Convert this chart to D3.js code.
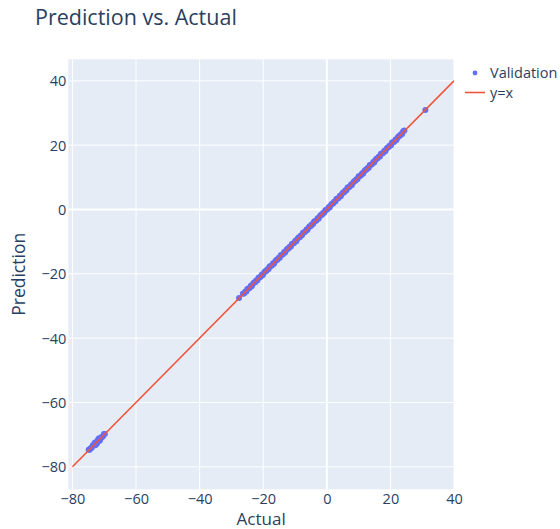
<!DOCTYPE html>
<html>
<head>
<meta charset="utf-8">
<script src="https://cdn.jsdelivr.net/npm/d3@7"></script>
<style>
  html, body { margin: 0; padding: 0; background: #fff; }
  svg text { font-family: "Open Sans", verdana, arial, sans-serif; fill: #2a3f5f; }
</style>
</head>
<body>
<svg id="chart" width="560" height="529"></svg>
<script>
// Validation set as [actual, predicted] pairs
const lowCluster = [
  [-74.9, -74.7], [-74.6, -74.7], [-74.3, -74.2], [-73.9, -74.1], [-73.6, -73.3], [-73.2, -73.2],
  [-72.9, -73.0], [-72.5, -72.3], [-72.2, -72.5], [-71.8, -71.7], [-71.5, -71.3], [-71.1, -71.2],
  [-70.8, -70.7], [-70.4, -70.6], [-70.1, -69.8], [-69.8, -69.8],
  [-73.0, -72.5], [-72.4, -72.9], [-71.9, -71.4], [-71.4, -71.9], [-72.8, -73.3], [-71.6, -71.1]
];
const isolated = [[-27.6, -27.5], [31.0, 30.9]];
const mainBand = [
  [-26.4, -26.2], [-26.0, -26.1], [-25.7, -25.6], [-25.3, -25.5], [-25.0, -24.7], [-24.6, -24.6],
  [-24.3, -24.4], [-23.9, -23.7], [-23.6, -23.9], [-23.2, -23.1], [-22.9, -22.7], [-22.5, -22.6],
  [-22.2, -22.1], [-21.8, -22.0], [-21.5, -21.2], [-21.1, -21.1], [-20.8, -20.9], [-20.4, -20.2],
  [-20.1, -20.4], [-19.7, -19.6], [-19.4, -19.2], [-19.0, -19.1], [-18.7, -18.6], [-18.3, -18.5],
  [-18.0, -17.7], [-17.6, -17.6], [-17.3, -17.4], [-16.9, -16.7], [-16.6, -16.9], [-16.2, -16.1],
  [-15.9, -15.7], [-15.5, -15.6], [-15.2, -15.1], [-14.8, -15.0], [-14.5, -14.2], [-14.1, -14.1],
  [-13.8, -13.9], [-13.4, -13.2], [-13.1, -13.4], [-12.7, -12.6], [-12.4, -12.2], [-12.0, -12.1],
  [-11.7, -11.6], [-11.3, -11.5], [-11.0, -10.7], [-10.6, -10.6], [-10.3, -10.4], [-9.9, -9.7],
  [-9.6, -9.9], [-9.2, -9.1], [-8.9, -8.7], [-8.5, -8.6], [-8.2, -8.1], [-7.8, -8.0],
  [-7.5, -7.2], [-7.1, -7.1], [-6.8, -6.9], [-6.4, -6.2], [-6.1, -6.4], [-5.7, -5.6],
  [-5.4, -5.2], [-5.0, -5.1], [-4.7, -4.6], [-4.3, -4.5], [-4.0, -3.7], [-3.6, -3.6],
  [-3.3, -3.4], [-2.9, -2.7], [-2.6, -2.9], [-2.2, -2.1], [-1.9, -1.7], [-1.5, -1.6],
  [-1.2, -1.1], [-0.8, -1.0], [-0.5, -0.2], [-0.1, -0.1], [0.2, 0.1], [0.6, 0.8],
  [0.9, 0.6], [1.3, 1.4], [1.6, 1.8], [2.0, 1.9], [2.3, 2.4], [2.7, 2.5],
  [3.0, 3.3], [3.4, 3.4], [3.7, 3.6], [4.1, 4.3], [4.4, 4.1], [4.8, 4.9],
  [5.1, 5.3], [5.5, 5.4], [5.8, 5.9], [6.2, 6.0], [6.5, 6.8], [6.9, 6.9],
  [7.2, 7.1], [7.6, 7.8], [7.9, 7.6], [8.3, 8.4], [8.6, 8.8], [9.0, 8.9],
  [9.3, 9.4], [9.7, 9.5], [10.0, 10.3], [10.4, 10.4], [10.7, 10.6], [11.1, 11.3],
  [11.4, 11.1], [11.8, 11.9], [12.1, 12.3], [12.5, 12.4], [12.8, 12.9], [13.2, 13.0],
  [13.5, 13.8], [13.9, 13.9], [14.2, 14.1], [14.6, 14.8], [14.9, 14.6], [15.3, 15.4],
  [15.6, 15.8], [16.0, 15.9], [16.3, 16.4], [16.7, 16.5], [17.0, 17.3], [17.4, 17.4],
  [17.7, 17.6], [18.1, 18.3], [18.4, 18.1], [18.8, 18.9], [19.1, 19.3], [19.5, 19.4],
  [19.8, 19.9], [20.2, 20.0], [20.5, 20.8], [20.9, 20.9], [21.2, 21.1], [21.6, 21.8],
  [21.9, 21.6], [22.3, 22.4], [22.6, 22.8], [23.0, 22.9], [23.3, 23.4], [23.7, 23.5],
  [24.0, 24.3], [24.4, 24.6]
];

// Reference diagonal y = x
const lineX = [-80, 40];
const lineY = [-80, 40];

const xTicks = [-80, -60, -40, -20, 0, 20, 40];
const yTicks = [-80, -60, -40, -20, 0, 20, 40];

const titleText = "Prediction vs. Actual";
const xTitle = "Actual";
const yTitle = "Prediction";
const seriesNames = ["Validation", "y=x"];

const markerColor = "#636efa";
const lineColor = "#EF553B";

const svg = d3.select("#chart");
const plot = { left: 68.3, right: 454, top: 59.3, bottom: 489.3 };

const x = d3.scaleLinear().domain([-81.3, 40]).range([plot.left, plot.right]);
const y = d3.scaleLinear().domain([-87.0, 46.7]).range([plot.bottom, plot.top]);

// plotting background
svg.append("rect")
  .attr("x", plot.left).attr("y", plot.top)
  .attr("width", plot.right - plot.left).attr("height", plot.bottom - plot.top)
  .attr("fill", "#e5ecf6");

// grid lines (zero lines drawn thicker)
const grid = svg.append("g");
grid.selectAll("line.gx").data(xTicks).join("line")
  .attr("x1", d => x(d)).attr("x2", d => x(d))
  .attr("y1", plot.top).attr("y2", plot.bottom)
  .attr("stroke", "#fff").attr("stroke-width", d => d === 0 ? 2 : 1);
grid.selectAll("line.gy").data(yTicks).join("line")
  .attr("y1", d => y(d)).attr("y2", d => y(d))
  .attr("x1", plot.left).attr("x2", plot.right)
  .attr("stroke", "#fff").attr("stroke-width", d => d === 0 ? 2 : 1);

const fmt = d => d < 0 ? "\u2212" + Math.abs(d) : String(d);

// axes (labels only, no domain or tick marks)
const xAxis = d3.axisBottom(x).tickValues(xTicks).tickFormat(fmt).tickSize(0).tickPadding(0);
const gx = svg.append("g").attr("transform", `translate(0,${plot.bottom + 15})`).call(xAxis);
gx.select(".domain").remove();
gx.selectAll("text").attr("dy", 0).attr("font-size", 14.5).attr("fill", "#2a3f5f")
  .style("font-family", "'Open Sans', verdana, arial, sans-serif");

const yAxis = d3.axisLeft(y).tickValues(yTicks).tickFormat(fmt).tickSize(0).tickPadding(0);
const gy = svg.append("g").attr("transform", `translate(${plot.left - 2},0)`).call(yAxis);
gy.select(".domain").remove();
gy.selectAll("text").attr("dy", "0.35em").attr("font-size", 14.5).attr("fill", "#2a3f5f")
  .style("font-family", "'Open Sans', verdana, arial, sans-serif");

// clip to plotting area
svg.append("clipPath").attr("id", "clip")
  .append("rect")
  .attr("x", plot.left).attr("y", plot.top)
  .attr("width", plot.right - plot.left).attr("height", plot.bottom - plot.top);

const layer = svg.append("g").attr("clip-path", "url(#clip)");

// validation points
const pts = [...lowCluster, ...isolated, ...mainBand];
layer.selectAll("circle").data(pts).join("circle")
  .attr("cx", d => x(d[0])).attr("cy", d => y(d[1]))
  .attr("r", 3).attr("fill", markerColor);

// y = x line
const line = d3.line().x(d => x(d[0])).y(d => y(d[1]));
layer.append("path")
  .datum(lineX.map((v, i) => [v, lineY[i]]))
  .attr("d", line)
  .attr("fill", "none").attr("stroke", lineColor).attr("stroke-width", 1.6);

// title
svg.append("text").attr("x", 35).attr("y", 25)
  .attr("font-size", 21.5).text(titleText);

// axis titles
svg.append("text")
  .attr("x", (plot.left + plot.right) / 2).attr("y", 525)
  .attr("text-anchor", "middle").attr("font-size", 17).text(xTitle);
svg.append("text")
  .attr("transform", `translate(25,${(plot.top + plot.bottom) / 2}) rotate(-90)`)
  .attr("text-anchor", "middle").attr("font-size", 17.5).text(yTitle);

// legend
const legend = svg.append("g");
legend.append("circle").attr("cx", 475).attr("cy", 73).attr("r", 2.4).attr("fill", markerColor);
legend.append("text").attr("x", 490).attr("y", 73).attr("dy", "0.35em")
  .attr("font-size", 14.5).text(seriesNames[0]);
legend.append("line").attr("x1", 465).attr("x2", 485).attr("y1", 92.5).attr("y2", 92.5)
  .attr("stroke", lineColor).attr("stroke-width", 1.6);
legend.append("text").attr("x", 490).attr("y", 92.5).attr("dy", "0.35em")
  .attr("font-size", 14.5).text(seriesNames[1]);
</script>
</body>
</html>
